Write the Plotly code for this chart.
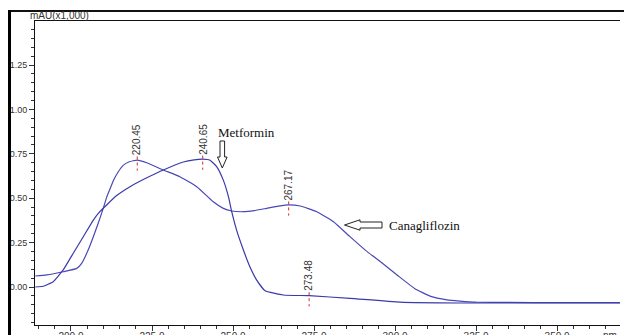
import plotly.graph_objects as go

# ---------------- data ----------------
wl_cana = [189, 192.5, 197.6, 201.8, 203.3, 205.3, 206.9, 208.4, 209.8, 211, 212, 213.1,
           214.6, 216.1, 218, 220.45, 223.4, 228.5, 233.6, 238.8, 243.9, 247, 249.6, 253.2,
           256.5, 260.4, 264, 267.17, 270.7, 275.8, 281, 286, 291, 296, 301, 306,
           311, 316, 320, 325, 335, 350, 370]
abs_cana = [0.062, 0.068, 0.086, 0.105, 0.133, 0.208, 0.283, 0.359, 0.434, 0.505, 0.55, 0.60,
            0.649, 0.685, 0.705, 0.715, 0.70, 0.659, 0.621, 0.565, 0.48, 0.443, 0.428, 0.424,
            0.43, 0.443, 0.455, 0.462, 0.456, 0.424, 0.368, 0.285, 0.205, 0.135, 0.062, -0.008,
            -0.053, -0.072, -0.079, -0.085, -0.087, -0.088, -0.088]

wl_met = [189, 191.4, 194.5, 197.6, 200.7, 203.8, 206.9, 208.9, 211, 214.1, 218.2, 223.4,
          228.5, 234.7, 238, 240.65, 242.9, 245, 247, 248.6, 249.6, 251.1, 253.2, 255.2,
          257.3, 259.9, 265.5, 273.48, 286.1, 301.5, 320, 370]
abs_met = [0.0, 0.004, 0.03, 0.096, 0.19, 0.283, 0.377, 0.424, 0.462, 0.515, 0.565, 0.615,
           0.659, 0.704, 0.716, 0.72, 0.714, 0.677, 0.602, 0.508, 0.424, 0.32, 0.208, 0.114,
           0.039, -0.021, -0.045, -0.049, -0.064, -0.085, -0.09, -0.09]

peak_wl = [220.45, 240.65, 267.17, 273.48]
peak_abs = [0.715, 0.72, 0.462, -0.049]
peak_labels = ["220.45", "240.65", "267.17", "273.48"]

x_ticks = [200, 225, 250, 275, 300, 325, 350]
y_ticks = [0.0, 0.25, 0.50, 0.75, 1.00, 1.25]

# ---------------- layout geometry ----------------
W, H = 624, 335
L, R, T, B = 35, 620, 21, 325
XR = [188.9, 369.4]
YR = [-0.214, 1.498]


def px(xp):
    return (xp - L) / (R - L)


def py(yp):
    return (B - yp) / (B - T)


fig = go.Figure()
fig.add_trace(go.Scatter(x=wl_cana, y=abs_cana, mode="lines", name="Canagliflozin",
                         line=dict(color="#4848b6", width=1.2, shape="spline", smoothing=0.4)))
fig.add_trace(go.Scatter(x=wl_met, y=abs_met, mode="lines", name="Metformin",
                         line=dict(color="#3a3aaa", width=1.2, shape="spline", smoothing=0.4)))

for w, a, lab in zip(peak_wl, peak_abs, peak_labels):
    fig.add_trace(go.Scatter(x=[w, w], y=[a + 0.02, a - 0.06], mode="lines",
                             line=dict(color="#d42a2a", width=1, dash="dot"),
                             showlegend=False, hoverinfo="skip"))
    fig.add_annotation(x=w, y=a + 0.02, text=lab, textangle=-90, showarrow=False,
                       xanchor="center", yanchor="bottom", borderpad=0,
                       font=dict(family="Liberation Sans, Arial", size=10, color="#333333"))

shapes = []
# outer frame lines
shapes.append(dict(type="line", xref="paper", yref="paper", x0=px(8), x1=px(624),
                   y0=py(11), y1=py(11), line=dict(color="#111111", width=2)))
shapes.append(dict(type="line", xref="paper", yref="paper", x0=px(9.5), x1=px(9.5),
                   y0=py(10), y1=py(336), line=dict(color="#000000", width=3)))
# hollow down arrow (Metformin)
ax, top, hs, tip = 222.3, 141, 157, 168
sw, hw = 2.3, 4.8
path = (f"M {px(ax-sw)},{py(top)} L {px(ax+sw)},{py(top)} L {px(ax+sw)},{py(hs)} "
        f"L {px(ax+hw)},{py(hs)} L {px(ax)},{py(tip)} L {px(ax-hw)},{py(hs)} "
        f"L {px(ax-sw)},{py(hs)} Z")
shapes.append(dict(type="path", xref="paper", yref="paper", path=path,
                   line=dict(color="#222222", width=1), fillcolor="white"))
# hollow left arrow (Canagliflozin)
cy, tipx, hx, endx = 225, 344.5, 360, 382
sh, hh = 3.0, 5.2
path2 = (f"M {px(endx)},{py(cy-sh)} L {px(hx)},{py(cy-sh)} L {px(hx)},{py(cy-hh)} "
         f"L {px(tipx)},{py(cy)} L {px(hx)},{py(cy+hh)} L {px(hx)},{py(cy+sh)} "
         f"L {px(endx)},{py(cy+sh)} Z")
shapes.append(dict(type="path", xref="paper", yref="paper", path=path2,
                   line=dict(color="#222222", width=1), fillcolor="white"))

fig.add_annotation(xref="paper", yref="paper", x=px(216), y=py(132), text="Metformin",
                   showarrow=False, xanchor="left", yanchor="middle",
                   font=dict(family="Liberation Serif, Times New Roman", size=13, color="#111111"))
fig.add_annotation(xref="paper", yref="paper", x=px(387), y=py(225), text="Canagliflozin",
                   showarrow=False, xanchor="left", yanchor="middle",
                   font=dict(family="Liberation Serif, Times New Roman", size=13, color="#111111"))
fig.add_annotation(xref="paper", yref="paper", x=px(29), y=py(16), text="mAU(x1,000)",
                   showarrow=False, xanchor="left", yanchor="middle", borderpad=0,
                   font=dict(family="Liberation Sans, Arial", size=10, color="#333333"))
fig.add_annotation(xref="paper", yref="paper", x=px(602), y=py(329), text="nm",
                   showarrow=False, xanchor="left", yanchor="top", borderpad=0,
                   font=dict(family="Liberation Sans, Arial", size=10, color="#333333"))

fig.update_layout(
    width=W, height=H, template="none",
    margin=dict(l=L, r=W - R, t=T, b=H - B, pad=0),
    paper_bgcolor="white", plot_bgcolor="white",
    showlegend=False, shapes=shapes,
    font=dict(family="Liberation Sans, Arial", size=9, color="#333333"),
)
fig.update_xaxes(range=XR, tickvals=x_ticks, ticktext=[f"{v:.1f}" for v in x_ticks],
                 ticks="outside", ticklen=5, tickwidth=1, tickcolor="#333333",
                 ticklabelstandoff=-3,
                 minor=dict(dtick=5, tick0=200, ticks="outside", ticklen=3, tickcolor="#333333"),
                 showline=True, linecolor="#111111", linewidth=1, mirror=True,
                 showgrid=False, zeroline=False, automargin=False,
                 tickfont=dict(size=10, color="#333333"))
fig.update_yaxes(range=YR, tickvals=y_ticks, ticktext=[f"{v:.2f}" for v in y_ticks],
                 ticks="outside", ticklen=5, tickwidth=1, tickcolor="#333333",
                 minor=dict(dtick=0.05, tick0=0, ticks="outside", ticklen=3, tickcolor="#333333"),
                 showline=True, linecolor="#111111", linewidth=1,
                 showgrid=False, zeroline=False, automargin=False,
                 tickfont=dict(size=9, color="#333333"))

fig.write_html("out.html", config={"displayModeBar": False},
               post_script="document.body.style.margin='0';document.body.style.overflow='hidden';")
